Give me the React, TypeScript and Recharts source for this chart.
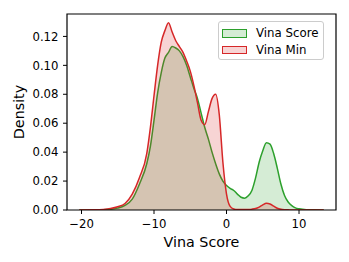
import {
  AreaChart,
  Area,
  XAxis,
  YAxis,
  Legend,
  ReferenceArea,
} from "recharts";

// KDE evaluation grid (Vina Score units)
const xGrid = [
  -20.3, -18, -17, -16, -15, -14, -13, -12, -11, -10.5, -10, -9.5, -9, -8.5, -8,
  -7.5, -7, -6.5, -6, -5.5, -5, -4.5, -4, -3.5, -3, -2.5, -2, -1.5, -1, -0.5, 0,
  0.5, 1, 1.5, 2, 2.5, 3, 3.5, 4, 4.5, 5, 5.5, 6, 6.5, 7, 7.5, 8, 8.5, 9, 9.5,
  10, 11, 12, 13.4,
];

const vinaScore = [
  0, 0, 0.0001, 0.0005, 0.0013, 0.0032, 0.0075, 0.018, 0.032, 0.044, 0.062,
  0.081, 0.095, 0.105, 0.109, 0.113, 0.112, 0.11, 0.106, 0.1, 0.092, 0.084,
  0.077, 0.067, 0.057, 0.049, 0.04, 0.032, 0.025, 0.02, 0.017, 0.015, 0.0135,
  0.011, 0.0088, 0.0082, 0.0098, 0.0135, 0.022, 0.033, 0.041, 0.0465, 0.0455,
  0.039, 0.029, 0.018, 0.01, 0.0055, 0.003, 0.0015, 0.0008, 0.0002, 0.0001, 0,
];

const vinaMin = [
  0, 0.0001, 0.0004, 0.001, 0.0022, 0.0045, 0.011, 0.0225, 0.039, 0.057, 0.079,
  0.1, 0.116, 0.124, 0.1295, 0.123, 0.117, 0.113, 0.109, 0.103, 0.096, 0.086,
  0.074, 0.062, 0.059, 0.068, 0.077, 0.08, 0.066, 0.033, 0.011, 0.0025, 0.0007,
  0.0003, 0.0003, 0.0003, 0.0004, 0.0006, 0.001, 0.002, 0.0035, 0.0046, 0.0042,
  0.0027, 0.0012, 0.0005, 0.0002, 0.0001, 0, 0, 0, 0, 0, 0,
];

const xTicks = [-20, -10, 0, 10];
const yTicks = [0, 0.02, 0.04, 0.06, 0.08, 0.1, 0.12];

const GREEN = "#2ca02c";
const RED = "#d62728";

const rows = xGrid.map((x, i) => ({
  x,
  score: vinaScore[i],
  min: vinaMin[i],
}));

const fmtX = (v: number) => (v < 0 ? "\u2212" + Math.abs(v) : String(v));

const XLabel = (props: any) => {
  const vb = props.viewBox || {};
  return (
    <text
      x={vb.x + vb.width / 2}
      y={vb.y + vb.height - 15.3}
      textAnchor="middle"
      fill="#000"
      fontSize={14.3}
      fontFamily="DejaVu Sans"
    >
      Vina Score
    </text>
  );
};

const LegendBox = () => {
  const items = [
    { label: "Vina Score", color: GREEN },
    { label: "Vina Min", color: RED },
  ];
  return (
    <div
      style={{
        position: "relative",
        width: 106,
        height: 39,
        boxSizing: "border-box",
        border: "1px solid #cccccc",
        borderRadius: 3,
        background: "rgba(255,255,255,0.8)",
        fontFamily: "DejaVu Sans",
        fontSize: 11.8,
        color: "#000",
      }}
    >
      {items.map((it, i) => (
        <div key={it.label}>
          <div
            style={{
              position: "absolute",
              left: 3,
              top: 7 + i * 16.5,
              width: 25,
              height: 8.5,
              boxSizing: "border-box",
              border: `1.5px solid ${it.color}`,
              background: it.color + "33",
            }}
          />
          <div
            style={{
              position: "absolute",
              left: 37,
              top: 3 + i * 16.5,
              lineHeight: "16px",
              whiteSpace: "nowrap",
            }}
          >
            {it.label}
          </div>
        </div>
      ))}
    </div>
  );
};

const App = () => {
  return (
    <div style={{ position: "absolute", left: 0, top: 0, width: 349, height: 262 }}>
      <AreaChart
        width={349}
        height={262}
        data={rows}
        margin={{ top: 14, right: 13, bottom: 0, left: 0 }}
        style={{ fontFamily: "DejaVu Sans" }}
      >
        <XAxis
          dataKey="x"
          type="number"
          domain={[-22, 15.1]}
          ticks={xTicks}
          tickFormatter={fmtX}
          height={52}
          axisLine={false}
          tickLine={{ stroke: "#000" }}
          tickSize={4}
          tickMargin={6}
          tick={{ fill: "#000", fontSize: 11.7 }}
          allowDataOverflow
          label={XLabel}
        />
        <YAxis
          type="number"
          domain={[0, 0.1355]}
          ticks={yTicks}
          tickFormatter={(v: number) => v.toFixed(2)}
          width={67}
          axisLine={false}
          tickLine={{ stroke: "#000" }}
          tickSize={4}
          tickMargin={4.5}
          tick={{ fill: "#000", fontSize: 11.7 }}
          allowDataOverflow
          label={{
            value: "Density",
            angle: -90,
            position: "center",
            dx: -15,
            fill: "#000",
            fontSize: 14.3,
          }}
        />
        <Area
          type="monotone"
          dataKey="score"
          stroke={GREEN}
          strokeWidth={1.5}
          fill={GREEN}
          fillOpacity={0.2}
          isAnimationActive={false}
          dot={false}
          activeDot={false}
        />
        <Area
          type="monotone"
          dataKey="min"
          stroke={RED}
          strokeWidth={1.5}
          fill={RED}
          fillOpacity={0.2}
          isAnimationActive={false}
          dot={false}
          activeDot={false}
        />
        <ReferenceArea
          x1={-22}
          x2={15.1}
          y1={0}
          y2={0.1355}
          fill="none"
          fillOpacity={0}
          stroke="#000"
          strokeWidth={1.2}
        />
        <Legend
          layout="vertical"
          align="center"
          verticalAlign="middle"
          content={<LegendBox />}
          wrapperStyle={{ left: 218, top: 21, width: 106, height: 39 }}
        />
      </AreaChart>
    </div>
  );
};

export default App;
